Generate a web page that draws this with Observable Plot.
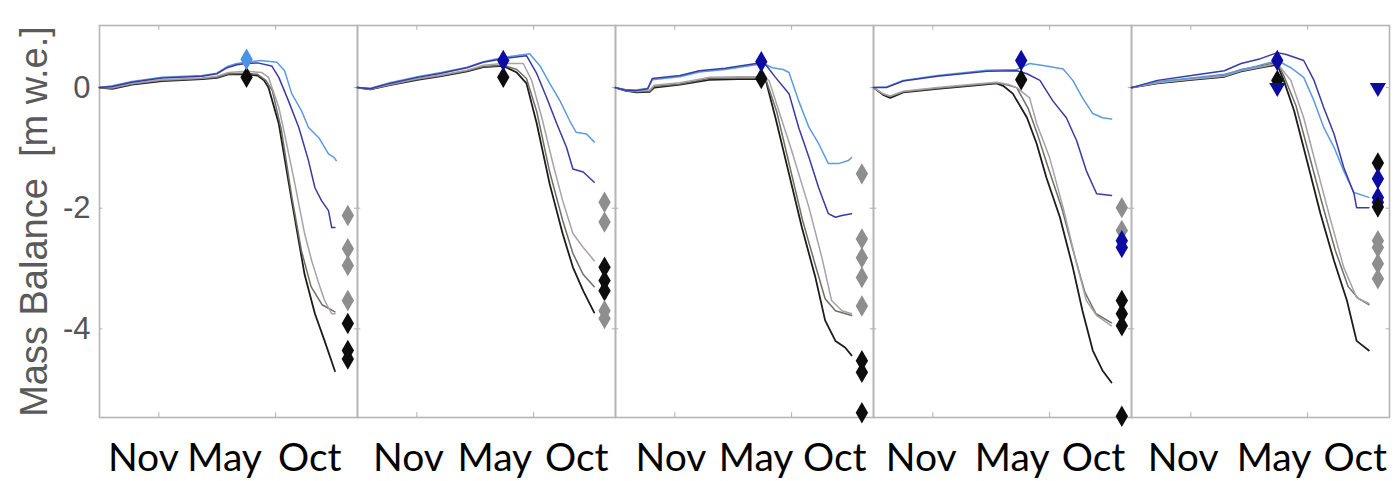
<!DOCTYPE html>
<html>
<head>
<meta charset="utf-8">
<script src="https://cdn.jsdelivr.net/npm/d3@7"></script>
<script src="https://cdn.jsdelivr.net/npm/@observablehq/plot@0.6"></script>
<style>
  html, body { margin: 0; padding: 0; background: #fff; }
</style>
</head>
<body>
<div id="chart"></div>
<script>
// ---------- categories ----------
const panels = ["P1", "P2", "P3", "P4", "P5"];
const seriesKeys = ["blk", "dgr", "lgr", "lbl", "dbl"];          // draw order
const markerKeys = ["mgr", "mbk", "mdb", "mlb"];
const colorKeys = [...seriesKeys, ...markerKeys];
const colorValues = ["#1c1c1c", "#6f6f63", "#a7a2aa", "#5a9be2", "#3a3aa4",
                     "#8e8e8e", "#0d0d0d", "#0c0ca0", "#4a92e6"];

// ---------- tick labels ----------
const yTicks = [0, -2, -4];
const yLabel = "Mass Balance  [m w.e.]";
const xTickDays = [92, 273];
const monthNames = ["Nov", "May", "Oct"];
const monthLabelDays = [[68, 194, 326], [79, 213, 340], [86, 218, 340], [74, 215, 341], [80, 221, 347]];

// ---------- series values: [day since 1 Oct, cumulative balance m w.e.] ----------
// Panel 1
const p1Black = [[0,0],[20,-0.02],[50,0.05],[97,0.11],[159,0.14],[182,0.16],[200,0.22],[228,0.22],[245,0.2],[255,0.12],[262,0.0],[278,-0.6],[298,-1.87],[318,-3.1],[334,-3.75],[349,-4.2],[365,-4.7]];
const p1DGray = [[0,0],[20,-0.01],[50,0.06],[97,0.12],[159,0.15],[182,0.17],[200,0.23],[228,0.24],[245,0.22],[258,0.12],[268,-0.05],[282,-0.7],[298,-1.8],[313,-2.7],[328,-3.3],[345,-3.6],[365,-3.72]];
const p1LGray = [[0,0],[20,0.0],[50,0.07],[97,0.13],[159,0.16],[182,0.19],[200,0.25],[228,0.27],[252,0.25],[262,0.17],[278,-0.33],[287,-0.77],[303,-1.6],[318,-2.42],[329,-2.87],[340,-3.25],[349,-3.53],[360,-3.75],[365,-3.75]];
const p1DBlue = [[0,0],[20,0.02],[50,0.09],[97,0.16],[159,0.19],[182,0.23],[198,0.33],[213,0.38],[228,0.4],[245,0.41],[267,0.36],[278,0.17],[293,-0.22],[309,-0.66],[324,-1.21],[334,-1.66],[344,-1.87],[355,-2.04],[360,-2.32],[365,-2.32]];
const p1LBlue = [[0,0],[20,0.03],[50,0.1],[97,0.17],[159,0.2],[182,0.24],[198,0.35],[213,0.4],[228,0.42],[250,0.45],[275,0.42],[287,0.28],[298,-0.1],[313,-0.38],[324,-0.66],[340,-0.83],[355,-1.1],[364,-1.16],[367,-1.21]];
// Panel 2
const p2Black = [[0,0],[20,-0.03],[50,0.04],[93,0.13],[130,0.19],[170,0.27],[195,0.34],[226,0.36],[247,0.25],[262,0.07],[278,-0.6],[298,-1.6],[318,-2.42],[334,-2.98],[350,-3.37],[367,-3.73]];
const p2DGray = [[0,0],[20,-0.03],[50,0.05],[93,0.14],[130,0.2],[170,0.28],[195,0.35],[226,0.37],[247,0.3],[262,0.15],[278,-0.4],[298,-1.4],[318,-2.2],[334,-2.75],[350,-3.1],[367,-3.3]];
const p2LGray = [[0,0],[20,-0.02],[50,0.05],[93,0.15],[130,0.21],[170,0.29],[195,0.37],[226,0.4],[257,0.4],[270,0.12],[287,-0.55],[303,-1.26],[318,-1.87],[334,-2.42],[350,-2.65],[367,-2.87]];
const p2DBlue = [[0,0],[20,-0.02],[50,0.07],[93,0.17],[130,0.24],[170,0.33],[195,0.42],[226,0.48],[262,0.53],[278,0.23],[293,-0.16],[309,-0.6],[324,-0.99],[334,-1.35],[350,-1.4],[367,-1.57]];
const p2LBlue = [[0,0],[20,-0.01],[50,0.08],[93,0.18],[130,0.25],[170,0.34],[195,0.43],[226,0.5],[267,0.56],[283,0.36],[298,0.07],[314,-0.22],[329,-0.55],[339,-0.74],[355,-0.77],[367,-0.9]];
// Panel 3
const p3Black = [[0,0],[15,-0.05],[32,-0.08],[53,-0.07],[60,0.0],[100,0.05],[145,0.13],[190,0.14],[226,0.14],[233,0.12],[248,-0.5],[269,-1.43],[289,-2.32],[310,-3.15],[325,-3.86],[341,-4.2],[356,-4.31],[366,-4.44]];
const p3DGray = [[0,0],[15,-0.05],[32,-0.07],[53,-0.06],[60,0.02],[100,0.06],[145,0.15],[190,0.16],[226,0.16],[233,0.14],[250,-0.4],[270,-1.3],[290,-2.2],[310,-2.95],[325,-3.5],[341,-3.7],[366,-3.78]];
const p3LGray = [[0,0],[15,-0.04],[32,-0.06],[53,-0.04],[60,0.04],[100,0.08],[145,0.17],[190,0.18],[226,0.18],[238,0.12],[253,-0.38],[273,-1.04],[300,-1.99],[320,-2.82],[335,-3.53],[351,-3.7],[366,-3.75]];
const p3DBlue = [[0,0],[15,-0.04],[32,-0.05],[50,-0.02],[57,0.15],[100,0.2],[130,0.28],[170,0.32],[218,0.4],[226,0.45],[235,0.35],[248,0.17],[269,-0.1],[284,-0.66],[300,-1.16],[315,-1.66],[330,-2.09],[341,-2.15],[351,-2.12],[366,-2.09]];
const p3LBlue = [[0,0],[15,-0.03],[32,-0.04],[50,-0.01],[57,0.13],[100,0.18],[130,0.26],[170,0.3],[218,0.38],[226,0.42],[243,0.33],[260,0.3],[269,0.25],[284,-0.22],[300,-0.66],[315,-0.93],[330,-1.26],[346,-1.26],[361,-1.21],[366,-1.16]];
// Panel 4
const p4Black = [[0,0],[15,-0.12],[26,-0.17],[46,-0.08],[99,-0.02],[150,0.03],[191,0.07],[201,0.03],[216,-0.1],[238,-0.5],[253,-0.93],[268,-1.49],[289,-2.15],[309,-2.98],[324,-3.7],[340,-4.36],[355,-4.69],[369,-4.89]];
const p4DGray = [[0,0],[15,-0.11],[26,-0.15],[46,-0.07],[99,-0.01],[150,0.04],[191,0.08],[205,0.05],[222,0.0],[240,-0.35],[255,-0.8],[270,-1.3],[292,-2.0],[312,-2.8],[328,-3.4],[345,-3.75],[369,-3.9]];
const p4LGray = [[0,0],[15,-0.1],[26,-0.14],[46,-0.06],[99,0.0],[150,0.05],[191,0.09],[210,0.05],[222,0.0],[242,-0.17],[253,-0.6],[273,-1.16],[294,-1.99],[315,-2.92],[330,-3.53],[346,-3.78],[369,-3.95]];
const p4DBlue = [[0,0],[20,0.0],[46,0.11],[99,0.19],[176,0.27],[222,0.28],[238,0.23],[258,0.12],[278,-0.22],[299,-0.5],[315,-0.88],[330,-1.38],[346,-1.76],[369,-1.79]];
const p4LBlue = [[0,0],[20,0.01],[46,0.12],[99,0.2],[176,0.29],[222,0.3],[242,0.4],[268,0.36],[294,0.31],[309,0.12],[324,-0.17],[340,-0.43],[355,-0.5],[369,-0.52]];
// Panel 5
const p5Black = [[0,0],[40,0.07],[93,0.13],[144,0.18],[170,0.27],[200,0.33],[226,0.38],[236,0.12],[252,-0.38],[272,-1.21],[293,-2.09],[314,-2.87],[334,-3.53],[349,-4.2],[368,-4.36]];
const p5DGray = [[0,0],[40,0.08],[93,0.15],[144,0.2],[170,0.3],[200,0.36],[226,0.42],[236,0.2],[255,-0.3],[275,-1.1],[295,-1.9],[316,-2.7],[336,-3.3],[352,-3.5],[368,-3.6]];
const p5LGray = [[0,0],[40,0.08],[93,0.14],[144,0.19],[170,0.28],[200,0.34],[226,0.4],[247,0.12],[267,-0.5],[287,-1.32],[309,-2.21],[329,-2.98],[349,-3.48],[368,-3.58]];
const p5DBlue = [[0,0],[40,0.12],[93,0.2],[144,0.28],[170,0.4],[200,0.48],[226,0.58],[240,0.55],[267,0.45],[283,0.12],[298,-0.33],[314,-0.77],[329,-1.32],[345,-1.76],[349,-1.99],[368,-1.99]];
const p5LBlue = [[0,0],[40,0.1],[93,0.16],[144,0.22],[195,0.36],[226,0.45],[247,0.33],[267,0.17],[283,-0.22],[298,-0.66],[314,-0.99],[329,-1.38],[345,-1.74],[368,-1.82]];

// ---------- observation markers ----------
const mayMarkerDays = [228, 226, 226, 229, 226];
const endMarkerDays = [385, 383, 382, 385, 382];
// [colour key, value, shape]
const p1May = [["mbk", 0.17, "d"], ["mlb", 0.47, "d"]];
const p1End = [["mgr", -2.12, "d"], ["mgr", -2.67, "d"], ["mgr", -2.95, "d"], ["mgr", -3.53, "d"], ["mbk", -3.91, "d"], ["mbk", -4.36, "d"], ["mbk", -4.5, "d"]];
const p2May = [["mbk", 0.17, "d"], ["mdb", 0.45, "d"]];
const p2End = [["mgr", -1.9, "d"], ["mgr", -2.23, "d"], ["mbk", -2.98, "d"], ["mbk", -3.2, "d"], ["mbk", -3.37, "d"], ["mgr", -3.7, "d"], ["mgr", -3.83, "d"]];
const p3May = [["mbk", 0.15, "d"], ["mdb", 0.43, "d"]];
const p3End = [["mgr", -1.43, "d"], ["mgr", -2.51, "d"], ["mgr", -2.82, "d"], ["mgr", -3.15, "d"], ["mgr", -3.62, "d"], ["mbk", -4.53, "d"], ["mbk", -4.72, "d"], ["mbk", -5.39, "d"]];
const p4May = [["mbk", 0.13, "d"], ["mdb", 0.45, "d"]];
const p4End = [["mgr", -1.99, "d"], ["mgr", -2.37, "d"], ["mdb", -2.54, "d"], ["mdb", -2.65, "d"], ["mbk", -3.53, "d"], ["mbk", -3.75, "d"], ["mbk", -3.95, "d"], ["mbk", -5.45, "d"]];
const p5May = [["mdb", 0.0, "t"], ["mbk", 0.12, "d"], ["mdb", 0.45, "d"]];
const p5End = [["mdb", 0.0, "t"], ["mbk", -1.25, "d"], ["mdb", -1.51, "d"], ["mdb", -1.82, "d"], ["mdb", -1.9, "d"], ["mbk", -1.98, "d"], ["mgr", -2.54, "d"], ["mgr", -2.65, "d"], ["mgr", -2.92, "d"], ["mgr", -3.17, "d"]];

// ---------- build tables ----------
const panelLines = [
  [p1Black, p1DGray, p1LGray, p1LBlue, p1DBlue],
  [p2Black, p2DGray, p2LGray, p2LBlue, p2DBlue],
  [p3Black, p3DGray, p3LGray, p3LBlue, p3DBlue],
  [p4Black, p4DGray, p4LGray, p4LBlue, p4DBlue],
  [p5Black, p5DGray, p5LGray, p5LBlue, p5DBlue]
];
const lineRows = [];
panelLines.forEach((group, pi) => group.forEach((pts, si) => pts.forEach(([day, value]) =>
  lineRows.push({panel: panels[pi], series: seriesKeys[si], day, value}))));

const mayGroups = [p1May, p2May, p3May, p4May, p5May];
const endGroups = [p1End, p2End, p3End, p4End, p5End];
const markerRows = [];
panels.forEach((p, pi) => {
  mayGroups[pi].forEach(([key, value, shape]) => markerRows.push({panel: p, day: mayMarkerDays[pi], value, key, shape}));
  endGroups[pi].forEach(([key, value, shape]) => markerRows.push({panel: p, day: endMarkerDays[pi], value, key, shape}));
});

const monthRows = [];
panels.forEach((p, pi) => monthNames.forEach((name, mi) => monthRows.push({panel: p, name, day: monthLabelDays[pi][mi]})));

const yTickRows = yTicks.map(v => ({panel: panels[0], v}));

const chart = Plot.plot({
  width: 1397,
  height: 481,
  marginLeft: 97,
  marginRight: 6,
  marginTop: 25,
  marginBottom: 64,
  style: {background: "#fff", overflow: "visible"},
  fx: {domain: panels, padding: 0, axis: null},
  x: {domain: [0, 400], axis: null},
  y: {domain: [-5.47, 1.03], axis: null},
  color: {domain: colorKeys, range: colorValues},
  marks: [
    // inward ticks (MATLAB box style)
    Plot.ruleY(yTicks, {y: d => d, x1: 0, x2: 5, stroke: "#b0b0b0", strokeWidth: 1}),
    Plot.ruleY(yTicks, {y: d => d, x1: 395, x2: 400, stroke: "#b0b0b0", strokeWidth: 1}),
    Plot.ruleX(xTickDays, {x: d => d, y1: 1.03, y2: 0.95, stroke: "#b0b0b0", strokeWidth: 1}),
    Plot.ruleX(xTickDays, {x: d => d, y1: -5.47, y2: -5.39, stroke: "#b0b0b0", strokeWidth: 1}),
    Plot.frame({stroke: "#b5b5b5", strokeWidth: 1.6}),
    Plot.line(lineRows, {
      fx: "panel", x: "day", y: "value", z: "series",
      stroke: "series", strokeWidth: d => d.series === "blk" ? 1.8 : 1.5,
      strokeLinejoin: "round"
    }),
    Plot.dot(markerRows.filter(d => d.shape === "d"), {
      fx: "panel", x: "day", y: "value", fill: "key", symbol: "diamond", r: 6.5, stroke: "none"
    }),
    Plot.dot(markerRows.filter(d => d.shape === "t"), {
      fx: "panel", x: "day", y: "value", fill: "key", symbol: "triangle", rotate: 180, r: 6, stroke: "none"
    }),
    // y tick labels
    Plot.text(yTickRows, {
      fx: "panel", y: "v", text: d => String(d.v), frameAnchor: "left", textAnchor: "end", dx: -9,
      fontSize: 31, fill: "#555", fontFamily: "Liberation Sans, Arial, sans-serif"
    }),
    // y axis title
    Plot.text([yLabel], {
      fx: () => panels[0], text: d => d, frameAnchor: "left", textAnchor: "middle", rotate: -90, dx: -65,
      fontSize: 38, fill: "#5a5a5a", fontFamily: "Liberation Sans, Arial, sans-serif"
    }),
    // month labels under each panel
    Plot.text(monthRows, {
      fx: "panel", x: "day", text: "name", frameAnchor: "bottom", lineAnchor: "bottom", dy: 53,
      fontSize: 39, fill: "#000", fontFamily: "Lato, 'Open Sans', sans-serif"
    })
  ]
});
document.getElementById("chart").appendChild(chart);
</script>
</body>
</html>
